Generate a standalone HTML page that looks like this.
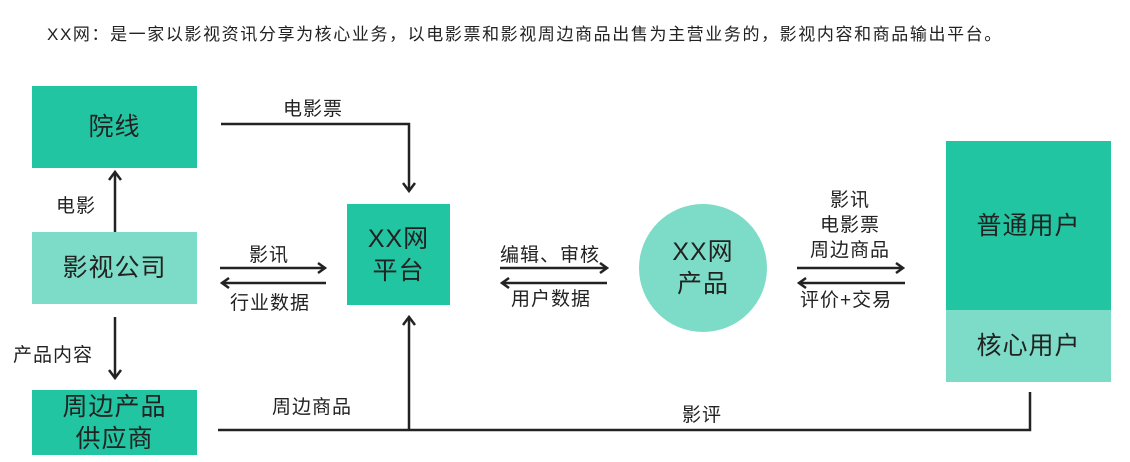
<!DOCTYPE html>
<html><head><meta charset="utf-8"><style>
body{margin:0;background:#fff;width:1130px;height:462px;overflow:hidden;position:relative;font-family:"Liberation Sans","Noto Sans CJK SC",sans-serif;color:#222}
.t{position:absolute;white-space:nowrap;font-size:19px;letter-spacing:1px}
.b{position:absolute;display:flex;align-items:center;justify-content:center;text-align:center;font-size:25px;line-height:32px;letter-spacing:1px}
</style></head><body>
<div class="t" style="left:47px;top:20px;font-size:17px;letter-spacing:1.6px">XX网：是一家以影视资讯分享为核心业务，以电影票和影视周边商品出售为主营业务的，影视内容和商品输出平台。</div>
<div class="b" style="left:32px;top:86px;width:165px;height:82px;background:#22c5a1">院线</div>
<div class="b" style="left:32px;top:232px;width:165px;height:72px;background:#7ddcc7">影视公司</div>
<div class="b" style="left:32px;top:390px;width:165px;height:65px;background:#22c5a1">周边产品<br>供应商</div>
<div class="b" style="left:347px;top:204px;width:103px;height:101px;background:#22c5a1">XX网<br>平台</div>
<div class="b" style="left:639px;top:204px;width:128px;height:128px;border-radius:50%;background:#7ddcc7">XX网<br>产品</div>
<div class="b" style="left:946px;top:141px;width:165px;height:169px;background:#22c5a1">普通用户</div>
<div class="b" style="left:946px;top:310px;width:165px;height:72px;background:#7ddcc7">核心用户</div>
<svg style="position:absolute;left:0;top:0" width="1130" height="462">
<g stroke="#222" stroke-width="2.5" fill="none">
<polyline points="221,124 409,124 409,190"/><polyline points="403,183 409,191 415,183"/>
<line x1="115" y1="232" x2="115" y2="173"/><polyline points="109,180 115,172 121,180"/>
<line x1="115" y1="317" x2="115" y2="377"/><polyline points="109,370 115,378 121,370"/>
<line x1="220" y1="268" x2="324" y2="268"/><polyline points="318,263 325,268 318,273"/>
<line x1="222" y1="283" x2="326" y2="283"/><polyline points="229,278 222,283 229,288"/>
<line x1="500" y1="268" x2="606" y2="268"/><polyline points="600,263 607,268 600,273"/>
<line x1="502" y1="283" x2="607" y2="283"/><polyline points="509,278 502,283 509,288"/>
<line x1="797" y1="268" x2="902" y2="268"/><polyline points="896,263 903,268 896,273"/>
<line x1="799" y1="283" x2="905" y2="283"/><polyline points="806,278 799,283 806,288"/>
<polyline points="218,430 1030,430 1030,392"/>
<line x1="409" y1="430" x2="409" y2="318"/><polyline points="403,325 409,317 415,325"/>
</g></svg>
<div class="t" style="left:283px;top:94px">电影票</div>
<div class="t" style="left:56px;top:191px">电影</div>
<div class="t" style="left:13px;top:340px">产品内容</div>
<div class="t" style="left:249px;top:240px">影讯</div>
<div class="t" style="left:230px;top:288px">行业数据</div>
<div class="t" style="left:272px;top:392px">周边商品</div>
<div class="t" style="left:500px;top:240px">编辑、审核</div>
<div class="t" style="left:511px;top:284px">用户数据</div>
<div class="t" style="left:800px;top:188px;text-align:center;line-height:25px;width:100px">影讯<br>电影票<br>周边商品</div>
<div class="t" style="left:800px;top:285px">评价+交易</div>
<div class="t" style="left:682px;top:400px">影评</div>
</body></html>
